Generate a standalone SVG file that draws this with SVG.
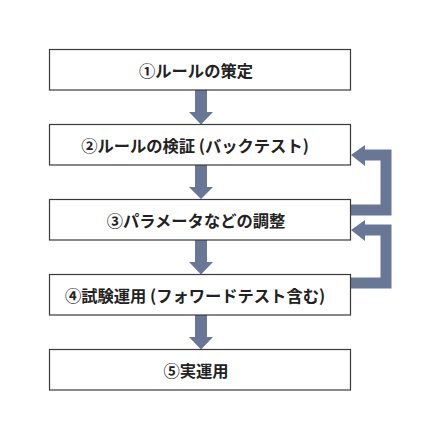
<svg xmlns="http://www.w3.org/2000/svg" width="430" height="440" viewBox="0 0 430 440">
<defs>
<style>
.box rect{fill:#fff;stroke:#3a3a3a;stroke-width:1.2}
.box text{font-family:"Noto Sans CJK JP","Noto Sans",sans-serif;font-size:16.3px;font-weight:700;fill:#222;text-anchor:middle;dominant-baseline:central}
.arrow{fill:#697796}
.fb{fill:none;stroke:#697796;stroke-width:11}
</style>
</defs>
<rect width="430" height="440" fill="#fff"/>
<g id="connectors">
<path class="arrow" d="M195 90 H207 V112 H213 L201 124.5 L189 112 H195 Z"/>
<path class="arrow" d="M195 165 H207 V187 H213 L201 199 L189 187 H195 Z"/>
<path class="arrow" d="M195 240 H207 V262 H213 L201 274.5 L189 262 H195 Z"/>
<path class="arrow" d="M195 315 H207 V337 H213 L201 349.5 L189 337 H195 Z"/>
<path class="fb" d="M350 210 H386 V155 H364"/>
<path class="arrow" d="M365 145 L351 155 L365 166 Z"/>
<path class="fb" d="M350 283 H386 V230 H364"/>
<path class="arrow" d="M365 220 L351 230 L365 241 Z"/>
</g>
<g id="n1" class="box"><rect x="49.5" y="49.5" width="301" height="40.5"/><text x="196" y="70">①ルールの策定</text></g>
<g id="n2" class="box"><rect x="49.5" y="124.5" width="301" height="40.5"/><text x="195" y="145">②ルールの検証 (バックテスト)</text></g>
<g id="n3" class="box"><rect x="49.5" y="199.5" width="301" height="40.5"/><text x="196" y="220">③パラメータなどの調整</text></g>
<g id="n4" class="box"><rect x="49.5" y="274.5" width="301" height="40.5"/><text x="195" y="295">④試験運用 (フォワードテスト含む)</text></g>
<g id="n5" class="box"><rect x="49.5" y="349.5" width="301" height="40.5"/><text x="196" y="370">⑤実運用</text></g>
</svg>
